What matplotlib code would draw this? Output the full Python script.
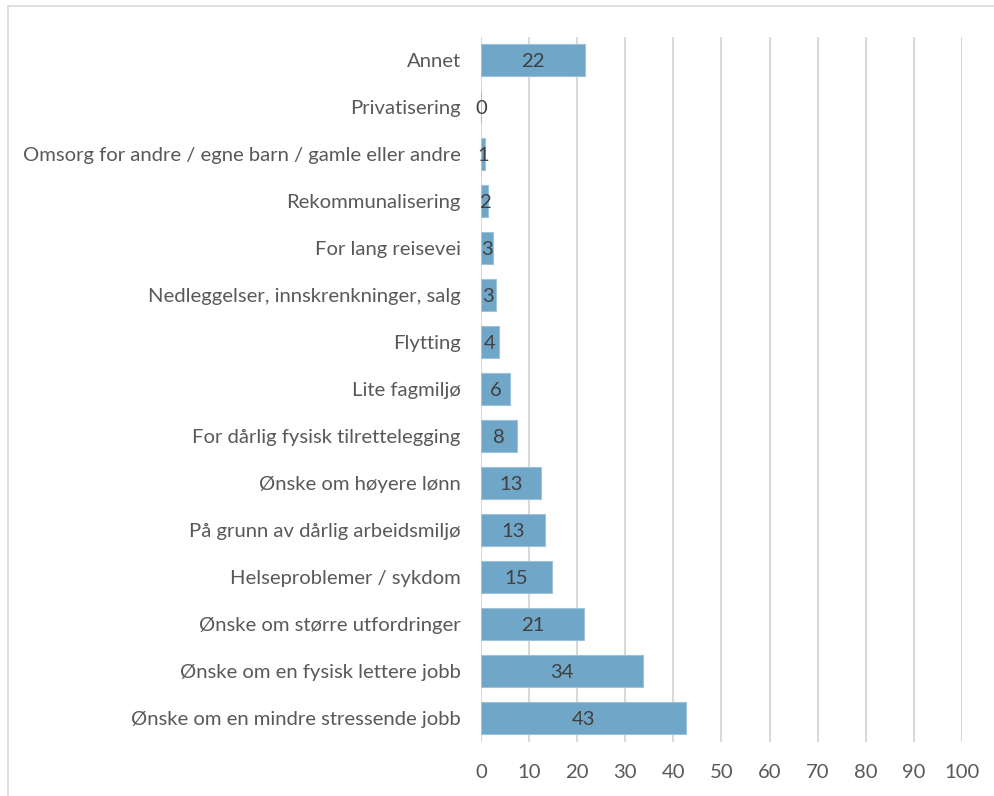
import matplotlib
matplotlib.use("Agg")
import matplotlib.pyplot as plt
from matplotlib.patches import Rectangle

categories = [
    "Annet",
    "Privatisering",
    "Omsorg for andre / egne barn / gamle eller andre",
    "Rekommunalisering",
    "For lang reisevei",
    "Nedleggelser, innskrenkninger, salg",
    "Flytting",
    "Lite fagmiljø",
    "For dårlig fysisk tilrettelegging",
    "Ønske om høyere lønn",
    "På grunn av dårlig arbeidsmiljø",
    "Helseproblemer / sykdom",
    "Ønske om større utfordringer",
    "Ønske om en fysisk lettere jobb",
    "Ønske om en mindre stressende jobb",
]
values = [21.7, 0.0, 0.9, 1.5, 2.5, 3.1, 3.7, 6.0, 7.5, 12.5, 13.3, 14.7, 21.4, 33.6, 42.6]
value_labels = ["22", "0", "1", "2", "3", "3", "4", "6", "8", "13", "13", "15", "21", "34", "43"]
x_ticks = [0, 10, 20, 30, 40, 50, 60, 70, 80, 90, 100]

plt.rcParams['font.family'] = ['Lato', 'DejaVu Sans']

W, H = 995, 796
fig = plt.figure(figsize=(W / 100, H / 100), dpi=100)
ax = fig.add_axes([481 / W, 54.5 / H, (962 - 481) / W, (759.5 - 54.5) / H])

# chart border (only top/left visible)
fig.patches.append(Rectangle((8 / W, -0.1), 1.2, (790 + 0.1 * H) / H, transform=fig.transFigure,
                             fill=False, edgecolor="#D9D9D9", linewidth=1.2))

n = len(categories)
ypos = list(range(n))
ax.barh(ypos, values, height=0.66, color="#70A6C7", edgecolor="#9DC3DA", linewidth=0.8, zorder=3)

fs = 14.6
for y, v, lab in zip(ypos, values, value_labels):
    ax.text(v / 2 if v > 0 else 0, y + 0.03, lab, ha="center", va="center", fontsize=fs, color="#404040", zorder=4)

ax.set_ylim(n - 0.5, -0.5)
ax.set_xlim(0, 100)
ax.set_yticks(ypos)
ax.set_yticklabels(categories, fontsize=fs, color="#595959")
ax.set_xticks(x_ticks)
ax.set_xticklabels([str(t) for t in x_ticks], fontsize=fs, color="#595959")
ax.tick_params(axis="y", length=0, pad=14.5)
ax.tick_params(axis="x", length=0, pad=16.3)
ax.grid(axis="x", color="#D9D9D9", linewidth=1.5, zorder=0)
for s in ax.spines.values():
    s.set_visible(False)

fig.savefig("out.png", dpi=100)
